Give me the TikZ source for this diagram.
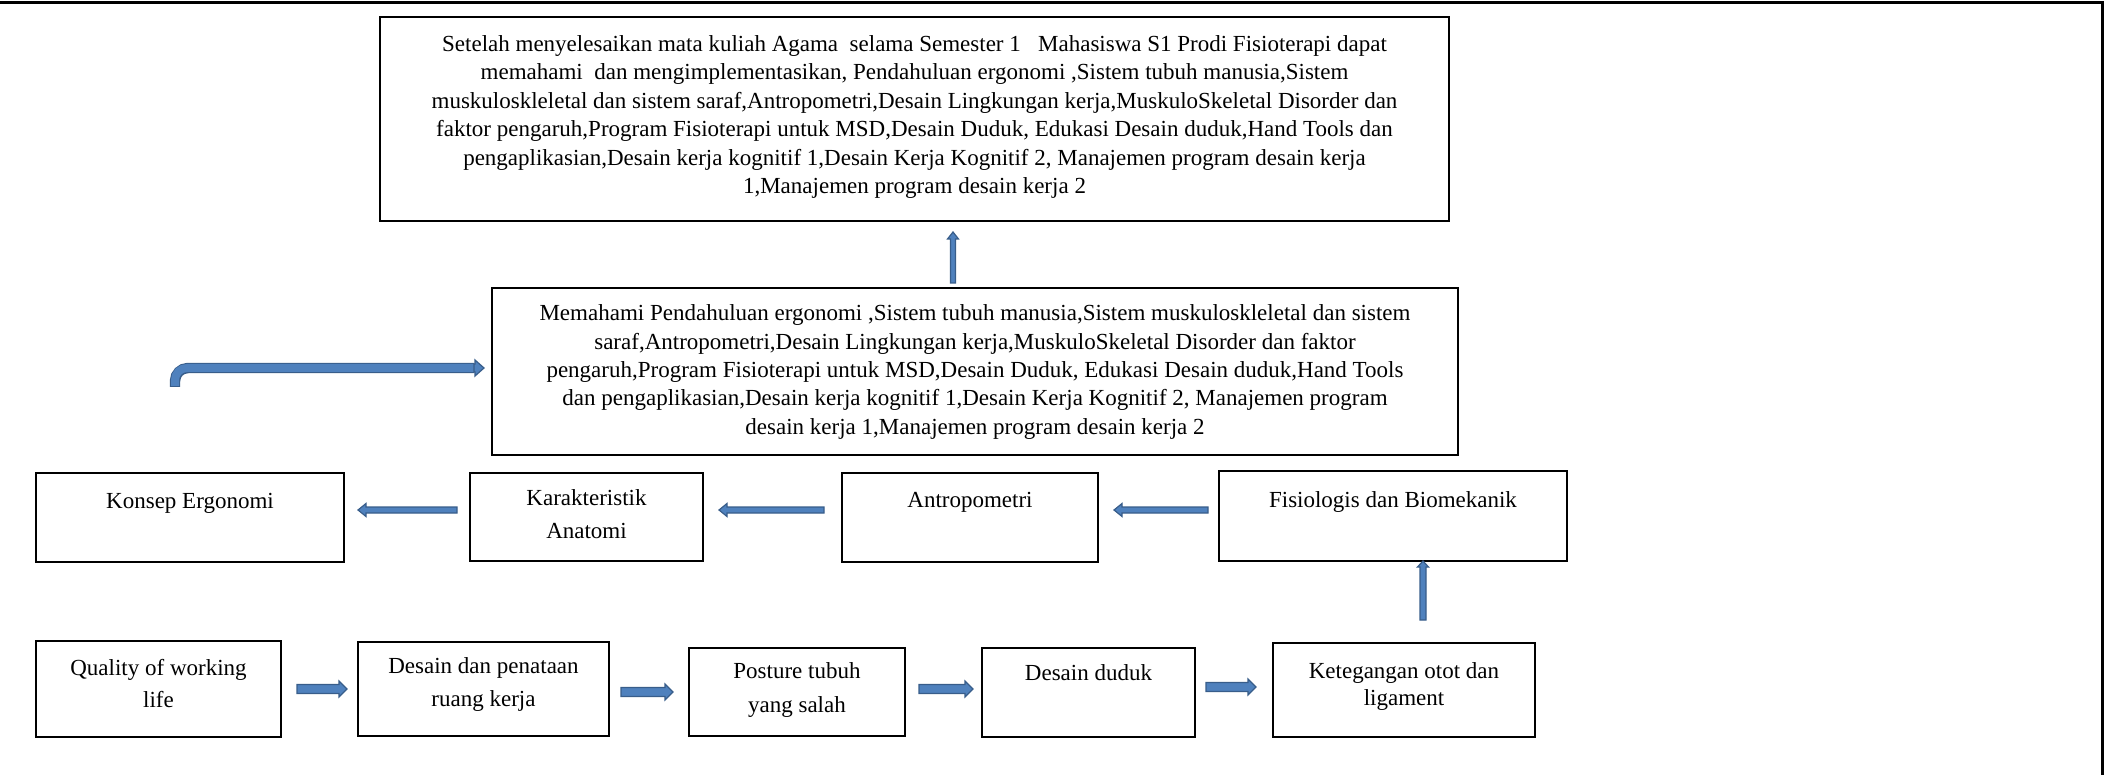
\documentclass[tikz,border=0pt]{standalone}
\usepackage{fontspec}
\setmainfont{Liberation Serif}
\usetikzlibrary{calc}
\definecolor{afill}{RGB}{79,129,189}
\definecolor{aedge}{RGB}{56,93,138}
\tikzset{
  box/.style={draw=black, line width=2.2pt, inner sep=0pt},
  bigtxt/.style={font=\fontsize{23}{28.5}\selectfont, align=center, inner sep=0pt},
  midtxt/.style={font=\fontsize{23}{28.3}\selectfont, align=center, inner sep=0pt},
  smalltxt/.style={font=\fontsize{23}{33}\selectfont, align=center, inner sep=0pt},
  barrow/.style={fill=afill, draw=aedge, line width=1.2pt, line join=miter},
  frame/.style={draw=black, line width=3pt},
}
% horizontal block arrow: tail, tip, half shaft, half head, head length
\newcommand\harrow[5]{%
  \path[barrow] let \p1=(#1), \p2=(#2), \n1={sign(\x2-\x1)*(#5)} in
  (\x1,\y1+#3) -- (\x2-\n1,\y1+#3) -- (\x2-\n1,\y1+#4) -- (\x2,\y1)
  -- (\x2-\n1,\y1-#4) -- (\x2-\n1,\y1-#3) -- (\x1,\y1-#3) -- cycle;}
% vertical block arrow
\newcommand\varrow[5]{%
  \path[barrow] let \p1=(#1), \p2=(#2), \n1={sign(\y2-\y1)*(#5)} in
  (\x1+#3,\y1) -- (\x1+#3,\y2-\n1) -- (\x1+#4,\y2-\n1) -- (\x1,\y2)
  -- (\x1-#4,\y2-\n1) -- (\x1-#3,\y2-\n1) -- (\x1-#3,\y1) -- cycle;}
\begin{document}
\begin{tikzpicture}[x=1pt,y=-1pt]
\useasboundingbox (0,0) rectangle (2113,775);
% page frame
\draw[frame] (0,3) -- (2102,3) -- (2102,775);

% boxes
\node[box, minimum width=1069pt, minimum height=204pt] (top) at (914.5,119) {};
\node[box, minimum width=966pt, minimum height=167pt] (mid) at (975,371.5) {};
\node[box, minimum width=308pt, minimum height=89pt] (konsep) at (190,517.5) {};
\node[box, minimum width=233pt, minimum height=88pt] (karak) at (586.5,517) {};
\node[box, minimum width=256pt, minimum height=89pt] (antro) at (970,517.5) {};
\node[box, minimum width=348pt, minimum height=90pt] (fisio) at (1393,516) {};
\node[box, minimum width=245pt, minimum height=96pt] (quality) at (158.5,689) {};
\node[box, minimum width=251pt, minimum height=94pt] (desain) at (483.5,689) {};
\node[box, minimum width=216pt, minimum height=88pt] (posture) at (797,692) {};
\node[box, minimum width=213pt, minimum height=89pt] (duduk) at (1088.5,692.5) {};
\node[box, minimum width=262pt, minimum height=94pt] (keteg) at (1404,690) {};

% texts
\node[bigtxt] (ttop) at (914.5,117) {Setelah menyelesaikan mata kuliah Agama\ \ selama Semester 1\ \ \ Mahasiswa S1 Prodi Fisioterapi dapat\\
memahami\ \ dan mengimplementasikan, Pendahuluan ergonomi ,Sistem tubuh manusia,Sistem\\
muskuloskleletal dan sistem saraf,Antropometri,Desain Lingkungan kerja,MuskuloSkeletal Disorder dan\\
faktor pengaruh,Program Fisioterapi untuk MSD,Desain Duduk, Edukasi Desain duduk,Hand Tools dan\\
pengaplikasian,Desain kerja kognitif 1,Desain Kerja Kognitif 2, Manajemen program desain kerja\\
1,Manajemen program desain kerja 2};
\node[midtxt] (tmid) at (975,372) {Memahami Pendahuluan ergonomi ,Sistem tubuh manusia,Sistem muskuloskleletal dan sistem\\
saraf,Antropometri,Desain Lingkungan kerja,MuskuloSkeletal Disorder dan faktor\\
pengaruh,Program Fisioterapi untuk MSD,Desain Duduk, Edukasi Desain duduk,Hand Tools\\
dan pengaplikasian,Desain kerja kognitif 1,Desain Kerja Kognitif 2, Manajemen program\\
desain kerja 1,Manajemen program desain kerja 2};
\node[smalltxt] (tkonsep) at (190,503) {Konsep Ergonomi};
\node[smalltxt] (tkarak) at (586.5,514) {Karakteristik\\Anatomi};
\node[smalltxt] (tantro) at (970,502) {Antropometri};
\node[smalltxt] (tfisio) at (1393,502) {Fisiologis dan Biomekanik};
\node[smalltxt, font=\fontsize{23}{32}\selectfont] (tquality) at (158.5,684) {Quality of working\\life};
\node[smalltxt] (tdesain) at (483.5,685) {Desain dan penataan\\ruang kerja};
\node[smalltxt, font=\fontsize{23}{34}\selectfont] (tposture) at (797,690) {Posture tubuh\\yang salah};
\node[smalltxt] (tduduk) at (1088.5,673) {Desain duduk};
\node[smalltxt, font=\fontsize{23}{27}\selectfont] (tketeg) at (1404,686) {Ketegangan otot dan\\ligament};

% arrow end points
\coordinate (u1s) at (953,283);  \coordinate (u1e) at (953,232);
\coordinate (u2s) at (1423,620); \coordinate (u2e) at (1423,561);
\coordinate (a1s) at (457,510);  \coordinate (a1e) at (358,510);
\coordinate (a2s) at (824,510);  \coordinate (a2e) at (719,510);
\coordinate (a3s) at (1208,510); \coordinate (a3e) at (1114,510);
\coordinate (b1s) at (297,689);  \coordinate (b1e) at (347,689);
\coordinate (b2s) at (621,692);  \coordinate (b2e) at (673,692);
\coordinate (b3s) at (919,689);  \coordinate (b3e) at (973,689);
\coordinate (b4s) at (1206,687); \coordinate (b4e) at (1256,687);
\coordinate (cs) at (175,387);   \coordinate (ce) at (484,368);
\coordinate (ch) at (474,368);

% arrows
\varrow{u1s}{u1e}{2.5pt}{5.5pt}{7pt}
\varrow{u2s}{u2e}{3pt}{5.5pt}{6pt}
\harrow{a1s}{a1e}{3pt}{6.5pt}{8pt}
\harrow{a2s}{a2e}{3pt}{6.5pt}{8pt}
\harrow{a3s}{a3e}{3pt}{6.5pt}{8pt}
\harrow{b1s}{b1e}{4.5pt}{8pt}{8pt}
\harrow{b2s}{b2e}{4.5pt}{8pt}{8pt}
\harrow{b3s}{b3e}{4.5pt}{8pt}{8pt}
\harrow{b4s}{b4e}{4.5pt}{8pt}{8pt}
% bent arrow
\draw[aedge, line width=10.4pt, rounded corners=13pt] (cs) |- (ch);
\draw[afill, line width=8pt, rounded corners=12pt, shorten <=1.2pt] (cs) |- (ch);
\harrow{ch}{ce}{4pt}{8pt}{9pt}
\end{tikzpicture}
\end{document}
